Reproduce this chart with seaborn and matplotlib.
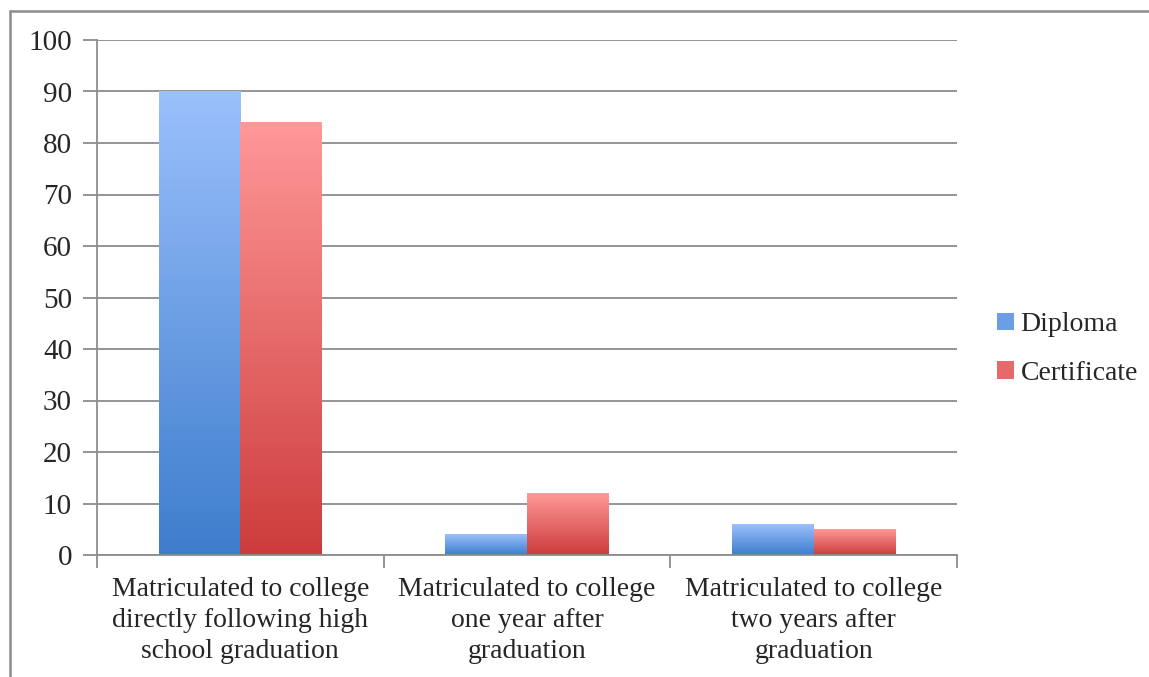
import numpy as np
import pandas as pd
import matplotlib
matplotlib.use("Agg")
import matplotlib.pyplot as plt
import matplotlib.colors as mcolors
from matplotlib.patches import Rectangle
from matplotlib.lines import Line2D
import seaborn as sns

categories = [
    "Matriculated to college\ndirectly following high\nschool graduation",
    "Matriculated to college\none year after\ngraduation",
    "Matriculated to college\ntwo years after\ngraduation",
]
series_names = ["Diploma", "Certificate"]
diploma = [90, 4, 6]
certificate = [84, 12, 5]
y_ticks = [0, 10, 20, 30, 40, 50, 60, 70, 80, 90, 100]

top_colors = {"Diploma": "#9BC0FC", "Certificate": "#FF9898"}
bottom_colors = {"Diploma": "#3D7DCC", "Certificate": "#CD3C3C"}
mid_colors = {"Diploma": "#6A9FE6", "Certificate": "#E66A6A"}

df = pd.DataFrame({
    "category": categories * 2,
    "series": ["Diploma"] * 3 + ["Certificate"] * 3,
    "value": diploma + certificate,
})

sns.set_style("white")
plt.rcParams["font.family"] = ["Liberation Serif", "DejaVu Serif"]

W, H = 1149, 677
fig = plt.figure(figsize=(W / 100, H / 100), dpi=100)
ax = fig.add_axes([97 / W, 1 - 555 / H, 860 / W, 515 / H])

sns.barplot(data=df, x="category", y="value", hue="series", hue_order=series_names,
            palette=mid_colors, width=0.57, ax=ax, legend=True, saturation=1,
            linewidth=0, zorder=3)

ax.set_ylim(0, 100)
ax.set_xlim(-0.5, 2.5)
ax.set_yticks(y_ticks)
ax.set_yticklabels([str(t) for t in y_ticks], fontsize=21)
ax.set_xlabel("")
ax.set_ylabel("")
ax.grid(axis="y", color="#8C8C8C", linewidth=1.3, zorder=0)
ax.set_axisbelow(True)

# gradient fill over each bar
n_per = len(categories)
for i, patch in enumerate(list(ax.patches)[:2 * n_per]):
    s = series_names[i // n_per]
    x0, y0 = patch.get_x(), patch.get_y()
    w, h = patch.get_width(), patch.get_height()
    cmap = mcolors.LinearSegmentedColormap.from_list("g", [bottom_colors[s], top_colors[s]])
    grad = np.linspace(0, 1, 256).reshape(-1, 1)
    ax.imshow(grad, extent=[x0, x0 + w, y0, y0 + h], origin="lower", aspect="auto",
              cmap=cmap, zorder=4, interpolation="bilinear")
ax.set_xlim(-0.5, 2.5)
ax.set_ylim(0, 100)

# axes styling
for sp in ["top", "right"]:
    ax.spines[sp].set_visible(False)
for sp in ["left", "bottom"]:
    ax.spines[sp].set_color("#8C8C8C")
    ax.spines[sp].set_linewidth(1.3)
    ax.spines[sp].set_zorder(5)

ax.tick_params(axis="y", which="major", length=10, width=1.3, color="#8C8C8C",
               direction="out", pad=8, labelsize=21, left=True)
ax.set_xticks(range(len(categories)))
ax.set_xticklabels(categories, fontsize=20, linespacing=1.3)
ax.tick_params(axis="x", which="major", length=0, pad=16)
ax.set_xticks([-0.5, 0.5, 1.5, 2.5], minor=True)
ax.tick_params(axis="x", which="minor", length=9, width=1.3, color="#8C8C8C",
               direction="out", bottom=True)

# legend
handles = [Rectangle((0, 0), 1, 1, facecolor=mid_colors[s], edgecolor="none") for s in series_names]
leg = fig.legend(handles, series_names, loc="center left",
                 bbox_to_anchor=(997 / W, 1 - 349 / H), bbox_transform=fig.transFigure,
                 frameon=False, fontsize=20, handlelength=0.6, handleheight=0.6,
                 handletextpad=0.25, labelspacing=0.85, borderpad=0, borderaxespad=0)
if ax.get_legend() is not None:
    ax.get_legend().remove()

# outer border (top and left edges only)
fig.add_artist(Line2D([10 / W, 1.0], [1 - 11 / H, 1 - 11 / H], transform=fig.transFigure,
                      color="#8C8C8C", linewidth=1.8))
fig.add_artist(Line2D([10 / W, 10 / W], [0, 1 - 11 / H], transform=fig.transFigure,
                      color="#8C8C8C", linewidth=1.8))

fig.savefig("out.png", dpi=100, facecolor="white")
